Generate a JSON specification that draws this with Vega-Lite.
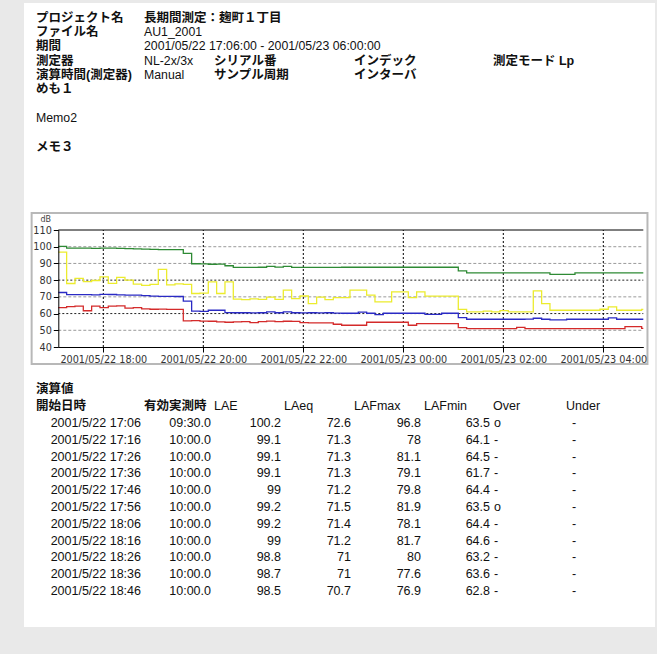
{
  "$schema": "https://vega.github.io/schema/vega-lite/v6.json",
  "width": 631,
  "height": 624,
  "autosize": {"type": "none"},
  "padding": {"left": 24, "top": 3, "right": 2, "bottom": 27},
  "background": "#e9e9e9",
  "config": {"view": {"fill": "white", "stroke": null}},
  "datasets": {
    "headLabels": [
      {"line": 1, "col": 1, "text": "プロジェクト名"},
      {"line": 1, "col": 2, "text": "長期間測定：麹町１丁目"},
      {"line": 2, "col": 1, "text": "ファイル名"},
      {"line": 3, "col": 1, "text": "期間"},
      {"line": 4, "col": 1, "text": "測定器"},
      {"line": 4, "col": 3, "text": "シリアル番"},
      {"line": 4, "col": 5, "text": "インデック"},
      {"line": 4, "col": 7, "text": "測定モード Lp"},
      {"line": 5, "col": 1, "text": "演算時間(測定器)"},
      {"line": 5, "col": 3, "text": "サンプル周期"},
      {"line": 5, "col": 5, "text": "インターバ"},
      {"line": 6, "col": 1, "text": "めも１"},
      {"line": 10, "col": 1, "text": "メモ３"}
    ],
    "headValues": [
      {"line": 2, "col": 2, "text": "AU1_2001"},
      {"line": 3, "col": 2, "text": "2001/05/22 17:06:00 - 2001/05/23 06:00:00"},
      {"line": 4, "col": 2, "text": "NL-2x/3x"},
      {"line": 5, "col": 2, "text": "Manual"},
      {"line": 8, "col": 1, "text": "Memo2"}
    ],
    "tableHeadJ": [
      {"row": -1, "col": 1, "text": "演算値"},
      {"row": 0, "col": 1, "text": "開始日時"},
      {"row": 0, "col": 2, "text": "有効実測時"}
    ],
    "tableHeadL": [
      {"row": 0, "col": 3, "text": "LAE"},
      {"row": 0, "col": 4, "text": "LAeq"},
      {"row": 0, "col": 5, "text": "LAFmax"},
      {"row": 0, "col": 6, "text": "LAFmin"},
      {"row": 0, "col": 7, "text": "Over"},
      {"row": 0, "col": 8, "text": "Under"}
    ],
    "calc": [
      {"row": 1, "start": "2001/5/22 17:06", "dur": "09:30.0", "LAE": 100.2, "LAeq": 72.6, "LAFmax": 96.8, "LAFmin": 63.5, "over": "o", "under": "-"},
      {"row": 2, "start": "2001/5/22 17:16", "dur": "10:00.0", "LAE": 99.1, "LAeq": 71.3, "LAFmax": 78, "LAFmin": 64.1, "over": "-", "under": "-"},
      {"row": 3, "start": "2001/5/22 17:26", "dur": "10:00.0", "LAE": 99.1, "LAeq": 71.3, "LAFmax": 81.1, "LAFmin": 64.5, "over": "-", "under": "-"},
      {"row": 4, "start": "2001/5/22 17:36", "dur": "10:00.0", "LAE": 99.1, "LAeq": 71.3, "LAFmax": 79.1, "LAFmin": 61.7, "over": "-", "under": "-"},
      {"row": 5, "start": "2001/5/22 17:46", "dur": "10:00.0", "LAE": 99, "LAeq": 71.2, "LAFmax": 79.8, "LAFmin": 64.4, "over": "-", "under": "-"},
      {"row": 6, "start": "2001/5/22 17:56", "dur": "10:00.0", "LAE": 99.2, "LAeq": 71.5, "LAFmax": 81.9, "LAFmin": 63.5, "over": "o", "under": "-"},
      {"row": 7, "start": "2001/5/22 18:06", "dur": "10:00.0", "LAE": 99.2, "LAeq": 71.4, "LAFmax": 78.1, "LAFmin": 64.4, "over": "-", "under": "-"},
      {"row": 8, "start": "2001/5/22 18:16", "dur": "10:00.0", "LAE": 99, "LAeq": 71.2, "LAFmax": 81.7, "LAFmin": 64.6, "over": "-", "under": "-"},
      {"row": 9, "start": "2001/5/22 18:26", "dur": "10:00.0", "LAE": 98.8, "LAeq": 71, "LAFmax": 80, "LAFmin": 63.2, "over": "-", "under": "-"},
      {"row": 10, "start": "2001/5/22 18:36", "dur": "10:00.0", "LAE": 98.7, "LAeq": 71, "LAFmax": 77.6, "LAFmin": 63.6, "over": "-", "under": "-"},
      {"row": 11, "start": "2001/5/22 18:46", "dur": "10:00.0", "LAE": 98.5, "LAeq": 70.7, "LAFmax": 76.9, "LAFmin": 62.8, "over": "-", "under": "-"}
    ],
    "frame": [{"t0": "2001-05-22T16:34", "t1": "2001-05-23T04:53", "lo": 29.8, "hi": 120.2}],
    "gridLight": [{"dB": 50, "t0": "2001-05-22T17:06", "t1": "2001-05-23T04:48"}, {"dB": 70, "t0": "2001-05-22T17:06", "t1": "2001-05-23T04:48"}, {"dB": 90, "t0": "2001-05-22T17:06", "t1": "2001-05-23T04:48"}, {"dB": 100, "t0": "2001-05-22T17:06", "t1": "2001-05-23T04:48"}],
    "gridDark": [{"dB": 60, "t0": "2001-05-22T17:06", "t1": "2001-05-23T04:48"}, {"dB": 80, "t0": "2001-05-22T17:06", "t1": "2001-05-23T04:48"}],
    "gridTop": [{"dB": 110, "t0": "2001-05-22T17:06", "t1": "2001-05-23T04:48"}],
    "ticks": [
      {"t": "2001-05-22T18:00", "lo": 40, "hi": 110}, {"t": "2001-05-22T20:00", "lo": 40, "hi": 110}, {"t": "2001-05-22T22:00", "lo": 40, "hi": 110},
      {"t": "2001-05-23T00:00", "lo": 40, "hi": 110}, {"t": "2001-05-23T02:00", "lo": 40, "hi": 110}, {"t": "2001-05-23T04:00", "lo": 40, "hi": 110}
    ],
    "trend": [
      {"t": "2001-05-22T17:06", "LAE": 100.2, "LAeq": 72.6, "LAFmax": 96.8, "LAFmin": 63.5},
      {"t": "2001-05-22T17:16", "LAE": 99.1, "LAeq": 71.3, "LAFmax": 78, "LAFmin": 64.1},
      {"t": "2001-05-22T17:26", "LAE": 99.1, "LAeq": 71.3, "LAFmax": 81.1, "LAFmin": 64.5},
      {"t": "2001-05-22T17:36", "LAE": 99.1, "LAeq": 71.3, "LAFmax": 79.1, "LAFmin": 61.7},
      {"t": "2001-05-22T17:46", "LAE": 99, "LAeq": 71.2, "LAFmax": 79.8, "LAFmin": 64.4},
      {"t": "2001-05-22T17:56", "LAE": 99.2, "LAeq": 71.5, "LAFmax": 81.9, "LAFmin": 63.5},
      {"t": "2001-05-22T18:06", "LAE": 99.2, "LAeq": 71.4, "LAFmax": 78.1, "LAFmin": 64.4},
      {"t": "2001-05-22T18:16", "LAE": 99, "LAeq": 71.2, "LAFmax": 81.7, "LAFmin": 64.6},
      {"t": "2001-05-22T18:26", "LAE": 98.8, "LAeq": 71, "LAFmax": 80, "LAFmin": 63.2},
      {"t": "2001-05-22T18:36", "LAE": 98.7, "LAeq": 71, "LAFmax": 77.6, "LAFmin": 63.6},
      {"t": "2001-05-22T18:46", "LAE": 98.5, "LAeq": 70.7, "LAFmax": 76.9, "LAFmin": 62.8},
      {"t": "2001-05-22T18:56", "LAE": 98.4, "LAeq": 70.4, "LAFmax": 77.5, "LAFmin": 62.6},
      {"t": "2001-05-22T19:06", "LAE": 98.3, "LAeq": 70.3, "LAFmax": 86.5, "LAFmin": 62.7},
      {"t": "2001-05-22T19:16", "LAE": 98.3, "LAeq": 70.3, "LAFmax": 77.2, "LAFmin": 62.5},
      {"t": "2001-05-22T19:26", "LAE": 98.2, "LAeq": 70.2, "LAFmax": 77.8, "LAFmin": 62.5},
      {"t": "2001-05-22T19:36", "LAE": 96, "LAeq": 67.5, "LAFmax": 77.5, "LAFmin": 55.6},
      {"t": "2001-05-22T19:46", "LAE": 89.8, "LAeq": 61.5, "LAFmax": 72, "LAFmin": 55.8},
      {"t": "2001-05-22T19:56", "LAE": 89.7, "LAeq": 61.3, "LAFmax": 72.2, "LAFmin": 55.5},
      {"t": "2001-05-22T20:06", "LAE": 89.5, "LAeq": 62, "LAFmax": 79, "LAFmin": 55.4},
      {"t": "2001-05-22T20:16", "LAE": 89.6, "LAeq": 62, "LAFmax": 72, "LAFmin": 55},
      {"t": "2001-05-22T20:26", "LAE": 88.6, "LAeq": 60.6, "LAFmax": 79, "LAFmin": 54.8},
      {"t": "2001-05-22T20:36", "LAE": 87.6, "LAeq": 60.5, "LAFmax": 68.6, "LAFmin": 55},
      {"t": "2001-05-22T20:46", "LAE": 87.6, "LAeq": 60.5, "LAFmax": 68.4, "LAFmin": 55.2},
      {"t": "2001-05-22T20:56", "LAE": 87.6, "LAeq": 60.4, "LAFmax": 68.8, "LAFmin": 54.6},
      {"t": "2001-05-22T21:06", "LAE": 87.7, "LAeq": 60.5, "LAFmax": 68.5, "LAFmin": 55.2},
      {"t": "2001-05-22T21:16", "LAE": 88.2, "LAeq": 61, "LAFmax": 69.8, "LAFmin": 55.5},
      {"t": "2001-05-22T21:26", "LAE": 87.8, "LAeq": 60.5, "LAFmax": 68.5, "LAFmin": 55.2},
      {"t": "2001-05-22T21:36", "LAE": 88.2, "LAeq": 61, "LAFmax": 74, "LAFmin": 55.4},
      {"t": "2001-05-22T21:46", "LAE": 87.6, "LAeq": 60.5, "LAFmax": 69, "LAFmin": 55.3},
      {"t": "2001-05-22T21:56", "LAE": 87.6, "LAeq": 60.4, "LAFmax": 70.5, "LAFmin": 54.6},
      {"t": "2001-05-22T22:06", "LAE": 87.6, "LAeq": 60.5, "LAFmax": 66, "LAFmin": 54.4},
      {"t": "2001-05-22T22:16", "LAE": 87.6, "LAeq": 60.4, "LAFmax": 69.8, "LAFmin": 54.4},
      {"t": "2001-05-22T22:26", "LAE": 87.6, "LAeq": 60.5, "LAFmax": 68.4, "LAFmin": 54.4},
      {"t": "2001-05-22T22:36", "LAE": 87.6, "LAeq": 60.3, "LAFmax": 69.6, "LAFmin": 53.6},
      {"t": "2001-05-22T22:46", "LAE": 87.7, "LAeq": 60.2, "LAFmax": 69.6, "LAFmin": 53},
      {"t": "2001-05-22T22:56", "LAE": 87.7, "LAeq": 60.2, "LAFmax": 74, "LAFmin": 53},
      {"t": "2001-05-22T23:06", "LAE": 87.7, "LAeq": 60.9, "LAFmax": 74, "LAFmin": 53},
      {"t": "2001-05-22T23:16", "LAE": 87.7, "LAeq": 60.2, "LAFmax": 71, "LAFmin": 54.8},
      {"t": "2001-05-22T23:26", "LAE": 87.7, "LAeq": 59.4, "LAFmax": 67, "LAFmin": 54.8},
      {"t": "2001-05-22T23:36", "LAE": 87.7, "LAeq": 60.2, "LAFmax": 67, "LAFmin": 54.8},
      {"t": "2001-05-22T23:46", "LAE": 87.7, "LAeq": 60.2, "LAFmax": 73, "LAFmin": 54.8},
      {"t": "2001-05-22T23:56", "LAE": 87.7, "LAeq": 60.2, "LAFmax": 73, "LAFmin": 54.8},
      {"t": "2001-05-23T00:06", "LAE": 87.7, "LAeq": 60.2, "LAFmax": 69.6, "LAFmin": 53},
      {"t": "2001-05-23T00:16", "LAE": 87.7, "LAeq": 60.2, "LAFmax": 73, "LAFmin": 54},
      {"t": "2001-05-23T00:26", "LAE": 87.7, "LAeq": 59.5, "LAFmax": 70.4, "LAFmin": 54},
      {"t": "2001-05-23T00:36", "LAE": 87.7, "LAeq": 59.5, "LAFmax": 70.4, "LAFmin": 54},
      {"t": "2001-05-23T00:46", "LAE": 87.7, "LAeq": 60.2, "LAFmax": 70.4, "LAFmin": 54},
      {"t": "2001-05-23T00:56", "LAE": 87.7, "LAeq": 60.2, "LAFmax": 70.4, "LAFmin": 54},
      {"t": "2001-05-23T01:06", "LAE": 85.5, "LAeq": 57.6, "LAFmax": 62.5, "LAFmin": 51.6},
      {"t": "2001-05-23T01:16", "LAE": 84.4, "LAeq": 56.6, "LAFmax": 61, "LAFmin": 51},
      {"t": "2001-05-23T01:26", "LAE": 84.4, "LAeq": 56.6, "LAFmax": 61, "LAFmin": 51},
      {"t": "2001-05-23T01:36", "LAE": 84.4, "LAeq": 56.6, "LAFmax": 61.5, "LAFmin": 51},
      {"t": "2001-05-23T01:46", "LAE": 84.4, "LAeq": 56.6, "LAFmax": 61, "LAFmin": 51},
      {"t": "2001-05-23T01:56", "LAE": 84.4, "LAeq": 56.6, "LAFmax": 61.8, "LAFmin": 51},
      {"t": "2001-05-23T02:06", "LAE": 84.4, "LAeq": 56.6, "LAFmax": 61, "LAFmin": 51},
      {"t": "2001-05-23T02:16", "LAE": 84.4, "LAeq": 56.6, "LAFmax": 61, "LAFmin": 51.8},
      {"t": "2001-05-23T02:26", "LAE": 84.4, "LAeq": 56.7, "LAFmax": 61, "LAFmin": 51},
      {"t": "2001-05-23T02:36", "LAE": 84.4, "LAeq": 57.2, "LAFmax": 73.6, "LAFmin": 51},
      {"t": "2001-05-23T02:46", "LAE": 84.4, "LAeq": 56.6, "LAFmax": 66, "LAFmin": 51},
      {"t": "2001-05-23T02:56", "LAE": 83.4, "LAeq": 56.2, "LAFmax": 62, "LAFmin": 51},
      {"t": "2001-05-23T03:06", "LAE": 83.4, "LAeq": 56.2, "LAFmax": 62, "LAFmin": 51},
      {"t": "2001-05-23T03:16", "LAE": 83.4, "LAeq": 56.6, "LAFmax": 62, "LAFmin": 51},
      {"t": "2001-05-23T03:26", "LAE": 84.4, "LAeq": 56.6, "LAFmax": 62, "LAFmin": 51},
      {"t": "2001-05-23T03:36", "LAE": 84.4, "LAeq": 56.6, "LAFmax": 62, "LAFmin": 51},
      {"t": "2001-05-23T03:46", "LAE": 84.4, "LAeq": 56.6, "LAFmax": 62, "LAFmin": 51},
      {"t": "2001-05-23T03:56", "LAE": 84.4, "LAeq": 56.6, "LAFmax": 62.6, "LAFmin": 51},
      {"t": "2001-05-23T04:06", "LAE": 84.4, "LAeq": 57.4, "LAFmax": 64, "LAFmin": 51},
      {"t": "2001-05-23T04:16", "LAE": 84.4, "LAeq": 56.6, "LAFmax": 62, "LAFmin": 51},
      {"t": "2001-05-23T04:26", "LAE": 84.4, "LAeq": 56.6, "LAFmax": 62, "LAFmin": 52.2},
      {"t": "2001-05-23T04:36", "LAE": 84.4, "LAeq": 56.6, "LAFmax": 62, "LAFmin": 52.2},
      {"t": "2001-05-23T04:46", "LAE": 84.4, "LAeq": 56.6, "LAFmax": 62.5, "LAFmin": 51.2},
      {"t": "2001-05-23T04:48", "LAE": 84.4, "LAeq": 56.6, "LAFmax": 62.5, "LAFmin": 51.2}
    ]
  },
  "resolve": {
    "scale": {"x": "independent", "y": "independent"},
    "axis": {"x": "independent", "y": "independent"}
  },
  "layer": [
    {
      "data": {"name": "frame"},
      "mark": {"type": "rect", "filled": false, "stroke": "#b8b8b8", "strokeWidth": 2},
      "encoding": {
        "x": {"field": "t0", "type": "temporal", "axis": null,
              "scale": {"type": "time", "domain": ["2001-05-22T17:06", "2001-05-23T04:48"], "range": [34.3, 619.3], "nice": false}},
        "x2": {"field": "t1"},
        "y": {"field": "lo", "type": "quantitative", "axis": null,
              "scale": {"domain": [40, 110], "range": [344, 227], "nice": false, "zero": false}},
        "y2": {"field": "hi"}
      }
    },
    {
      "data": {"name": "gridLight"},
      "mark": {"type": "rule", "color": "#9a9a9a", "strokeDash": [3, 2], "strokeWidth": 1},
      "encoding": {
        "x": {"field": "t0", "type": "temporal", "axis": null,
              "scale": {"type": "time", "domain": ["2001-05-22T17:06", "2001-05-23T04:48"], "range": [34.3, 619.3], "nice": false}},
        "x2": {"field": "t1"},
        "y": {"field": "dB", "type": "quantitative", "axis": null,
              "scale": {"domain": [40, 110], "range": [344, 227], "nice": false, "zero": false}}
      }
    },
    {
      "data": {"name": "gridDark"},
      "mark": {"type": "rule", "color": "#222", "strokeDash": [2, 2], "strokeWidth": 1},
      "encoding": {
        "x": {"field": "t0", "type": "temporal", "axis": null,
              "scale": {"type": "time", "domain": ["2001-05-22T17:06", "2001-05-23T04:48"], "range": [34.3, 619.3], "nice": false}},
        "x2": {"field": "t1"},
        "y": {"field": "dB", "type": "quantitative", "axis": null,
              "scale": {"domain": [40, 110], "range": [344, 227], "nice": false, "zero": false}}
      }
    },
    {
      "data": {"name": "gridTop"},
      "mark": {"type": "rule", "color": "#000", "strokeWidth": 1},
      "encoding": {
        "x": {"field": "t0", "type": "temporal", "axis": null,
              "scale": {"type": "time", "domain": ["2001-05-22T17:06", "2001-05-23T04:48"], "range": [34.3, 619.3], "nice": false}},
        "x2": {"field": "t1"},
        "y": {"field": "dB", "type": "quantitative", "axis": null,
              "scale": {"domain": [40, 110], "range": [344, 227], "nice": false, "zero": false}}
      }
    },
    {
      "data": {"name": "ticks"},
      "mark": {"type": "rule", "color": "#000", "strokeDash": [2, 2], "strokeWidth": 1},
      "encoding": {
        "x": {"field": "t", "type": "temporal", "axis": null,
              "scale": {"type": "time", "domain": ["2001-05-22T17:06", "2001-05-23T04:48"], "range": [34.3, 619.3], "nice": false}},
        "y": {"field": "lo", "type": "quantitative", "axis": null,
              "scale": {"domain": [40, 110], "range": [344, 227], "nice": false, "zero": false}},
        "y2": {"field": "hi"}
      }
    },
    {
      "data": {"name": "trend"},
      "mark": {"type": "line", "interpolate": "step-after", "color": "#ecec2e", "strokeWidth": 1.3},
      "encoding": {
        "x": {"field": "t", "type": "temporal", "axis": null,
              "scale": {"type": "time", "domain": ["2001-05-22T17:06", "2001-05-23T04:48"], "range": [34.3, 619.3], "nice": false}},
        "y": {"field": "LAFmax", "type": "quantitative", "axis": null,
              "scale": {"domain": [40, 110], "range": [344, 227], "nice": false, "zero": false}}
      }
    },
    {
      "data": {"name": "trend"},
      "mark": {"type": "line", "interpolate": "step-after", "color": "#d42a2a", "strokeWidth": 1.3},
      "encoding": {
        "x": {"field": "t", "type": "temporal", "axis": null,
              "scale": {"type": "time", "domain": ["2001-05-22T17:06", "2001-05-23T04:48"], "range": [34.3, 619.3], "nice": false}},
        "y": {"field": "LAFmin", "type": "quantitative", "axis": null,
              "scale": {"domain": [40, 110], "range": [344, 227], "nice": false, "zero": false}}
      }
    },
    {
      "data": {"name": "trend"},
      "mark": {"type": "line", "interpolate": "step-after", "color": "#2a2ac4", "strokeWidth": 1.3},
      "encoding": {
        "x": {"field": "t", "type": "temporal", "axis": null,
              "scale": {"type": "time", "domain": ["2001-05-22T17:06", "2001-05-23T04:48"], "range": [34.3, 619.3], "nice": false}},
        "y": {"field": "LAeq", "type": "quantitative", "axis": null,
              "scale": {"domain": [40, 110], "range": [344, 227], "nice": false, "zero": false}}
      }
    },
    {
      "data": {"name": "trend"},
      "mark": {"type": "line", "interpolate": "step-after", "color": "#2e8a34", "strokeWidth": 1.3},
      "encoding": {
        "x": {"field": "t", "type": "temporal",
              "scale": {"type": "time", "domain": ["2001-05-22T17:06", "2001-05-23T04:48"], "range": [34.3, 619.3], "nice": false},
              "axis": {
                "orient": "bottom", "offset": -280, "zindex": 1,
                "format": "%Y/%m/%d %H:%M",
                "values": ["2001-05-22T18:00", "2001-05-22T20:00", "2001-05-22T22:00", "2001-05-23T00:00", "2001-05-23T02:00", "2001-05-23T04:00"],
                "labelFont": "DejaVu Sans", "labelFontSize": 9.7, "labelColor": "#333",
                "tickColor": "#000", "tickSize": 5, "domainColor": "#000",
                "labelPadding": 2, "grid": false, "title": null,
                "labelFlush": false, "labelOverlap": false
              }},
        "y": {"field": "LAE", "type": "quantitative",
              "scale": {"domain": [40, 110], "range": [344, 227], "nice": false, "zero": false},
              "axis": {
                "orient": "left", "offset": -34.3, "zindex": 1,
                "values": [40, 50, 60, 70, 80, 90, 100, 110],
                "title": "dB", "titleAngle": 0, "titleX": -13, "titleY": 216,
                "titleAlign": "center", "titleBaseline": "middle",
                "titleFont": "DejaVu Sans", "titleFontSize": 8, "titleFontWeight": "normal", "titleColor": "#444",
                "labelFont": "DejaVu Sans", "labelFontSize": 9.7, "labelColor": "#333",
                "tickColor": "#000", "tickSize": 5, "domainColor": "#000",
                "labelPadding": 2, "grid": false
              }}
      }
    },
    {
      "data": {"name": "headLabels"},
      "mark": {"type": "text", "align": "left", "baseline": "middle", "font": "Liberation Sans, Noto Sans CJK JP", "fontSize": 12.5, "fontWeight": "bold", "color": "#111"},
      "encoding": {
        "x": {"field": "col", "type": "quantitative", "axis": null,
              "scale": {"domain": [1, 2, 3, 4, 5, 6, 7, 8, 9], "range": [12, 120, 190, 260, 330, 400, 469, 542, 612], "nice": false, "zero": false}},
        "y": {"field": "line", "type": "quantitative", "axis": null,
              "scale": {"domain": [1, 10], "range": [14.5, 144], "nice": false, "zero": false}},
        "text": {"field": "text"}
      }
    },
    {
      "data": {"name": "headValues"},
      "mark": {"type": "text", "align": "left", "baseline": "middle", "font": "Liberation Sans, Noto Sans CJK JP", "fontSize": 12.3, "color": "#111"},
      "encoding": {
        "x": {"field": "col", "type": "quantitative", "axis": null,
              "scale": {"domain": [1, 2, 3, 4, 5, 6, 7, 8, 9], "range": [12, 120, 190, 260, 330, 400, 469, 542, 612], "nice": false, "zero": false}},
        "y": {"field": "line", "type": "quantitative", "axis": null,
              "scale": {"domain": [1, 10], "range": [14.5, 144], "nice": false, "zero": false}},
        "text": {"field": "text"}
      }
    },
    {
      "layer": [
        {
          "data": {"name": "tableHeadJ"},
          "mark": {"type": "text", "align": "left", "baseline": "middle", "font": "Liberation Sans, Noto Sans CJK JP", "fontSize": 12.5, "fontWeight": "bold", "color": "#111"},
          "encoding": {
            "x": {"field": "col", "type": "quantitative", "axis": null,
                  "scale": {"domain": [1, 2, 3, 4, 5, 6, 7, 8, 9], "range": [12, 120, 190, 260, 330, 400, 469, 542, 612], "nice": false, "zero": false}},
            "y": {"field": "row", "type": "quantitative", "axis": null,
                  "scale": {"domain": [-1, 11], "range": [386.4, 588], "nice": false, "zero": false}},
            "text": {"field": "text"}
          }
        },
        {
          "data": {"name": "tableHeadL"},
          "mark": {"type": "text", "align": "left", "baseline": "middle", "font": "Liberation Sans, Noto Sans CJK JP", "fontSize": 12.5, "color": "#111"},
          "encoding": {
            "x": {"field": "col", "type": "quantitative", "axis": null},
            "y": {"field": "row", "type": "quantitative", "axis": null},
            "text": {"field": "text"}
          }
        },
        {
          "data": {"name": "calc"},
          "mark": {"type": "text", "align": "right", "baseline": "middle", "dx": -3, "font": "Liberation Sans", "fontSize": 12.5, "color": "#111"},
          "encoding": {
            "x": {"datum": 2, "type": "quantitative", "axis": null},
            "y": {"field": "row", "type": "quantitative", "axis": null},
            "text": {"field": "start"}
          }
        },
        {
          "data": {"name": "calc"},
          "mark": {"type": "text", "align": "right", "baseline": "middle", "dx": -3, "font": "Liberation Sans", "fontSize": 12.5, "color": "#111"},
          "encoding": {
            "x": {"datum": 3, "type": "quantitative", "axis": null},
            "y": {"field": "row", "type": "quantitative", "axis": null},
            "text": {"field": "dur"}
          }
        },
        {
          "data": {"name": "calc"},
          "mark": {"type": "text", "align": "right", "baseline": "middle", "dx": -3, "font": "Liberation Sans", "fontSize": 12.5, "color": "#111"},
          "encoding": {
            "x": {"datum": 4, "type": "quantitative", "axis": null},
            "y": {"field": "row", "type": "quantitative", "axis": null},
            "text": {"field": "LAE", "type": "quantitative", "format": "~g"}
          }
        },
        {
          "data": {"name": "calc"},
          "mark": {"type": "text", "align": "right", "baseline": "middle", "dx": -3, "font": "Liberation Sans", "fontSize": 12.5, "color": "#111"},
          "encoding": {
            "x": {"datum": 5, "type": "quantitative", "axis": null},
            "y": {"field": "row", "type": "quantitative", "axis": null},
            "text": {"field": "LAeq", "type": "quantitative", "format": "~g"}
          }
        },
        {
          "data": {"name": "calc"},
          "mark": {"type": "text", "align": "right", "baseline": "middle", "dx": -3, "font": "Liberation Sans", "fontSize": 12.5, "color": "#111"},
          "encoding": {
            "x": {"datum": 6, "type": "quantitative", "axis": null},
            "y": {"field": "row", "type": "quantitative", "axis": null},
            "text": {"field": "LAFmax", "type": "quantitative", "format": "~g"}
          }
        },
        {
          "data": {"name": "calc"},
          "mark": {"type": "text", "align": "right", "baseline": "middle", "dx": -3, "font": "Liberation Sans", "fontSize": 12.5, "color": "#111"},
          "encoding": {
            "x": {"datum": 7, "type": "quantitative", "axis": null},
            "y": {"field": "row", "type": "quantitative", "axis": null},
            "text": {"field": "LAFmin", "type": "quantitative", "format": "~g"}
          }
        },
        {
          "data": {"name": "calc"},
          "mark": {"type": "text", "align": "left", "baseline": "middle", "dx": 1, "font": "Liberation Sans", "fontSize": 12.5, "color": "#111"},
          "encoding": {
            "x": {"datum": 7, "type": "quantitative", "axis": null},
            "y": {"field": "row", "type": "quantitative", "axis": null},
            "text": {"field": "over"}
          }
        },
        {
          "data": {"name": "calc"},
          "mark": {"type": "text", "align": "left", "baseline": "middle", "dx": 6, "font": "Liberation Sans", "fontSize": 12.5, "color": "#111"},
          "encoding": {
            "x": {"datum": 8, "type": "quantitative", "axis": null},
            "y": {"field": "row", "type": "quantitative", "axis": null},
            "text": {"field": "under"}
          }
        }
      ]
    }
  ]
}
